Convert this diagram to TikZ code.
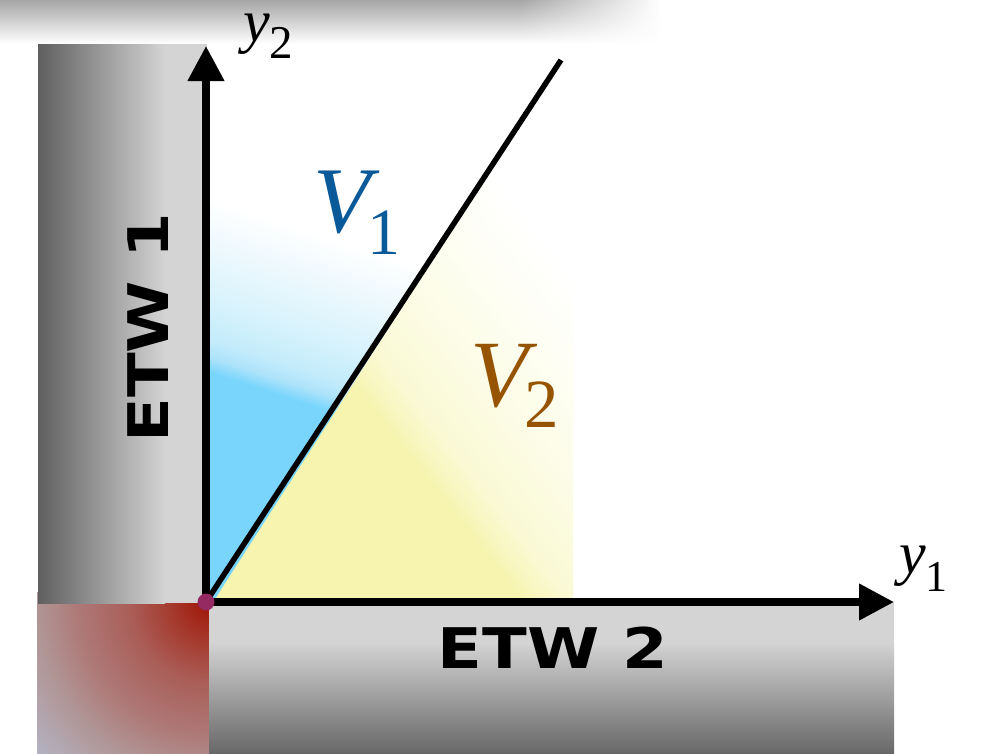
\documentclass[tikz,border=0pt]{standalone}
\usepackage{fontspec}
\usetikzlibrary{arrows.meta,fadings}
\newfontfamily\timesf{Liberation Serif}
\newfontfamily\etwf{DejaVu Sans}
\definecolor{shadowc}{HTML}{A6A6A6}
\definecolor{grayL}{HTML}{D4D4D4}
\definecolor{grayD}{HTML}{5F5F5F}
\definecolor{grayDD}{HTML}{686868}
\definecolor{blueA}{HTML}{79D5FC}
\definecolor{blueB}{HTML}{AEE3FA}
\definecolor{blueC}{HTML}{C2EBFB}
\definecolor{blueD}{HTML}{D6F2FC}
\definecolor{blueE}{HTML}{EBF8FD}
\definecolor{yelA}{HTML}{F6F4AE}
\definecolor{yelB}{HTML}{F8F6BF}
\definecolor{yelC}{HTML}{FAF9D4}
\definecolor{yelD}{HTML}{FCFCE5}
\definecolor{yelE}{HTML}{FEFEF3}
\definecolor{redA}{HTML}{A01505}
\definecolor{redB}{HTML}{A53C30}
\definecolor{redC}{HTML}{AA5E58}
\definecolor{redD}{HTML}{AD7876}
\definecolor{redE}{HTML}{B09494}
\definecolor{redF}{HTML}{B4B4C4}
\definecolor{dotc}{HTML}{952A62}
\definecolor{vone}{HTML}{0A5A9A}
\definecolor{vtwo}{HTML}{965400}
\pgfdeclareverticalshading{bluefade}{100bp}{color(0bp)=(blueA); color(55bp)=(blueA); color(56.5bp)=(blueB); color(58bp)=(blueC); color(61.5bp)=(blueD); color(66.5bp)=(blueE); color(71.5bp)=(white); color(100bp)=(white)}
\pgfdeclareverticalshading{yellowfade}{100bp}{color(0bp)=(yelA); color(53.6bp)=(yelA); color(54.6bp)=(yelB); color(56.4bp)=(yelC); color(60.7bp)=(yelD); color(65.7bp)=(yelE); color(70.7bp)=(white); color(100bp)=(white)}
\pgfdeclareradialshading{redcorner}{\pgfpoint{0bp}{0bp}}{color(0bp)=(redA); color(4.2bp)=(redB); color(8.3bp)=(redC); color(13.5bp)=(redD); color(17.7bp)=(redE); color(24bp)=(redF); color(50bp)=(redF)}
\tikzset{
  axisline/.style={line width=7.5pt, -{Triangle[length=35pt,width=35pt]}},
  etwtext/.style={inner sep=0pt, font=\etwf\bfseries\fontsize{56}{56}\selectfont},
  lbl/.style={inner sep=0pt, anchor=base west},
}
\begin{document}
\begin{tikzpicture}[x=1pt,y=-1pt]
\useasboundingbox (0,0) rectangle (985,753);
\fill[white] (0,0) rectangle (985,753);
% top shadow
\shade[top color=shadowc, bottom color=white] (0,0) rectangle (520,44);
\shade[top color=shadowc, bottom color=white, path fading=east] (519,0) rectangle (660,44);
% coordinates
\coordinate (O) at (206,602);
\coordinate (Y2tip) at (206,46);
\coordinate (Y1tip) at (894,602);
\coordinate (Dtop) at (561,60);
% yellow region V2
\begin{scope}
  \clip (206,602) -- (561,60) -- (573,60) -- (573,602) -- cycle;
  \begin{scope}[transform canvas={shift={(357,390)},rotate=-52}]
    \shade[shading=yellowfade] (-500,-300) rectangle (500,400);
  \end{scope}
\end{scope}
% blue region V1
\begin{scope}
  \clip (206,602) -- (206,60) -- (561,60) -- (213,602) -- cycle;
  \begin{scope}[transform canvas={shift={(206,371)},rotate=-18}]
    \shade[shading=bluefade] (-300,-200) rectangle (600,300);
  \end{scope}
\end{scope}
% red corner square
\begin{scope}
  \clip (37,592) rectangle (209,753);
  \shade[shading=redcorner] (209,603) circle[radius=240pt];
\end{scope}
% ETW 1 strip
\fill[grayL] (38,44) rectangle (207,603);
\shade[left color=grayD, right color=grayL] (38,44) rectangle (165,603);
% ETW 2 strip
\fill[grayL] (209,602) rectangle (894,643);
\shade[top color=grayL, bottom color=grayDD] (209,642) rectangle (894,753);
% diagonal
\draw[line width=5.5pt] (O) -- (Dtop);
% axes
\draw[axisline] (O) -- (Y2tip);
\draw[axisline] (O) -- (Y1tip);
\fill[dotc] (O) circle[radius=8.5pt];
% labels
\node[etwtext, rotate=90] (etw1) at (148.5,327.5) {\scalebox{1.17}[1]{ETW 1}};
\node[etwtext] (etw2) at (553,648) {\scalebox{1.17}[1]{ETW 2}};
\node[lbl] (y2lab) at (243,41) {\timesf\fontsize{60}{60}\selectfont\itshape y\raisebox{-17pt}{\upshape\fontsize{47}{47}\selectfont 2}};
\node[lbl] (y1lab) at (899,573) {\timesf\fontsize{60}{60}\selectfont\itshape y\raisebox{-18pt}{\upshape\fontsize{44}{44}\selectfont 1}};
\node[lbl, text=vone] (v1lab) at (313,232) {\timesf\fontsize{94}{94}\selectfont\itshape V\kern-3pt\raisebox{-22pt}{\upshape\fontsize{66}{66}\selectfont 1}};
\node[lbl, text=vtwo] (v2lab) at (470,406) {\timesf\fontsize{95}{95}\selectfont\itshape V\kern-4pt\raisebox{-21pt}{\upshape\fontsize{69}{69}\selectfont 2}};
\end{tikzpicture}
\end{document}
